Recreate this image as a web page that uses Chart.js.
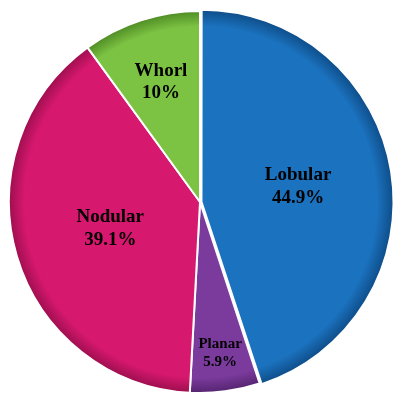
<!DOCTYPE html>
<html>
<head>
<meta charset="utf-8">
<script src="https://cdn.jsdelivr.net/npm/chart.js@4.4.1/dist/chart.umd.min.js"></script>
<style>
  html, body { margin: 0; padding: 0; background: #fff; }
  #wrap { width: 403px; height: 401px; }
</style>
</head>
<body>
<div id="wrap"><canvas id="grafica"></canvas></div>
<script>
// datos del grafico
const categorias = ["Lobular", "Planar", "Nodular", "Whorl"];
const porcentajes = [44.9, 5.9, 39.1, 10];
const etiquetasValor = ["44.9%", "5.9%", "39.1%", "10%"];

const colores = ["#1b72be", "#7b3b9d", "#d7186f", "#7cc243"];
const coloresBorde = ["#0f4f8c", "#552470", "#9e0f4f", "#4f8c24"];
const distanciaEtiqueta = [0.52, 0.8, 0.49, 0.66];
const tamanoFuente = [19, 15, 19, 19];

function degradado(ctx, i) {
  const chart = ctx.chart;
  const a = chart.chartArea;
  if (!a) return colores[i];
  const cx = (a.left + a.right) / 2, cy = (a.top + a.bottom) / 2;
  const r = Math.min(a.right - a.left, a.bottom - a.top) / 2;
  const g = chart.ctx.createRadialGradient(cx, cy, 0, cx, cy, r);
  g.addColorStop(0, colores[i]);
  g.addColorStop(0.9, colores[i]);
  g.addColorStop(0.98, coloresBorde[i]);
  g.addColorStop(1, coloresBorde[i]);
  return g;
}

// etiquetas dentro de cada porcion
const pluginEtiquetas = {
  id: "etiquetas",
  afterDatasetsDraw(chart) {
    const ctx = chart.ctx;
    const meta = chart.getDatasetMeta(0);
    ctx.save();
    ctx.fillStyle = "#000";
    ctx.textAlign = "center";
    ctx.textBaseline = "middle";
    meta.data.forEach((arc, i) => {
      const p = arc.getProps(["x", "y", "startAngle", "endAngle", "outerRadius"], true);
      const ang = (p.startAngle + p.endAngle) / 2;
      const d = p.outerRadius * distanciaEtiqueta[i];
      const x = p.x + Math.cos(ang) * d;
      const y = p.y + Math.sin(ang) * d;
      const fs = tamanoFuente[i];
      ctx.font = "bold " + fs + "px 'Liberation Serif', 'Times New Roman', serif";
      const lh = fs * 1.2;
      ctx.fillText(categorias[i], x, y - lh / 2);
      ctx.fillText(etiquetasValor[i], x, y + lh / 2);
    });
    ctx.restore();
  }
};

new Chart(document.getElementById("grafica"), {
  type: "pie",
  data: {
    labels: categorias,
    datasets: [{
      data: porcentajes,
      backgroundColor: ctx => degradado(ctx, ctx.dataIndex),
      borderColor: "#ffffff",
      borderWidth: 2,
      offset: [6, 0, 0, 0]
    }]
  },
  options: {
    responsive: true,
    maintainAspectRatio: false,
    animation: false,
    layout: { padding: { left: 5, right: 8, top: 7, bottom: 4 } },
    plugins: {
      legend: { display: false },
      tooltip: { enabled: false }
    }
  },
  plugins: [pluginEtiquetas]
});
</script>
</body>
</html>
